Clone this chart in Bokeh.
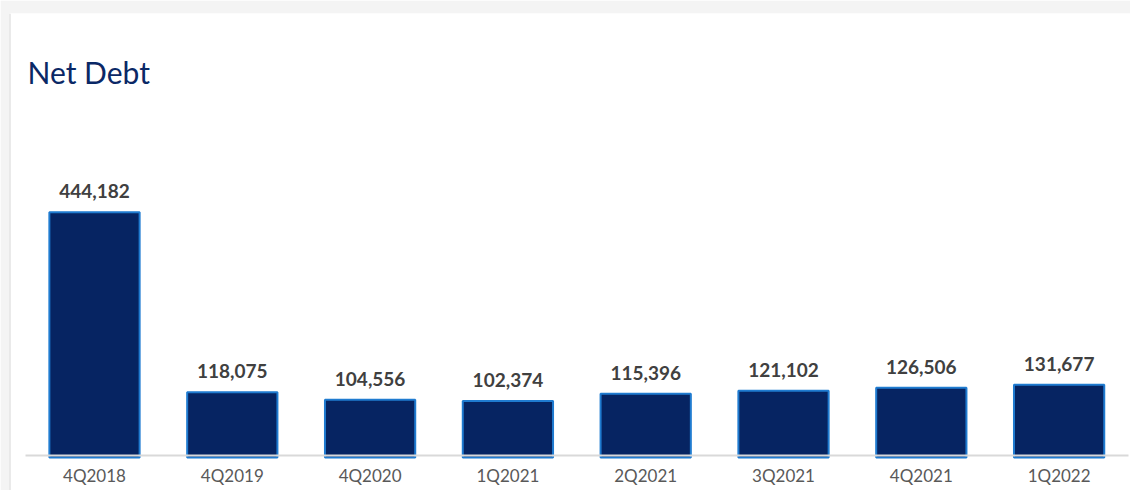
from bokeh.plotting import figure
from bokeh.models import Range1d, FixedTicker, Label, Span, ColumnDataSource
from bokeh.core.properties import value
from bokeh.embed import file_html
from bokeh.resources import INLINE

categories = ["4Q2018", "4Q2019", "4Q2020", "1Q2021", "2Q2021", "3Q2021", "4Q2021", "1Q2022"]
net_debt = [444182, 118075, 104556, 102374, 115396, 121102, 126506, 131677]
title_text = "Net Debt"

idx = list(range(len(categories)))
src = ColumnDataSource(dict(
    x=idx,
    top=net_debt,
    lbl=[f"{v:,}" for v in net_debt],
))

p = figure(width=1130, height=490, output_backend="svg", toolbar_location=None,
           x_range=Range1d(-0.6168, 7.518), y_range=Range1d(-59800, 804400),
           min_border_left=9, min_border_top=13, min_border_right=0, min_border_bottom=0)
p.border_fill_color = "#f4f4f4"
p.background_fill_color = "white"
p.outline_line_color = None
p.xgrid.visible = False
p.ygrid.visible = False
p.yaxis.visible = False

p.vbar(x="x", top="top", width=0.655, bottom=0, source=src,
       fill_color="#062462", line_color="#1f7bd0", line_width=2)

p.text(x="x", y="top", text="lbl", source=src, y_offset=-21,
       text_align="center", text_baseline="alphabetic",
       text_font=value("Lato"), text_font_style="bold", text_font_size="19px",
       text_color="#404040")

xa = p.xaxis[0]
xa.fixed_location = 3600
xa.bounds = (-0.5, 7.5)
xa.ticker = FixedTicker(ticks=idx)
xa.major_label_overrides = {i: c for i, c in zip(idx, categories)}
xa.axis_line_color = "#d9d9d9"
xa.axis_line_width = 2
xa.major_tick_line_color = None
xa.minor_tick_line_color = None
xa.major_label_standoff = 3
xa.major_label_text_font = "Lato"
xa.major_label_text_font_size = "17px"
xa.major_label_text_color = "#595959"

p.add_layout(Span(location=-0.6168, dimension="height", line_color="#d6d6d6", line_width=2))

p.add_layout(Label(x=18, y=419, x_units="screen", y_units="screen", text=title_text,
                   text_font="Lato", text_font_size="30px", text_color="#0a2866",
                   text_baseline="alphabetic"))

open("out.html", "w").write(file_html(p, INLINE))
